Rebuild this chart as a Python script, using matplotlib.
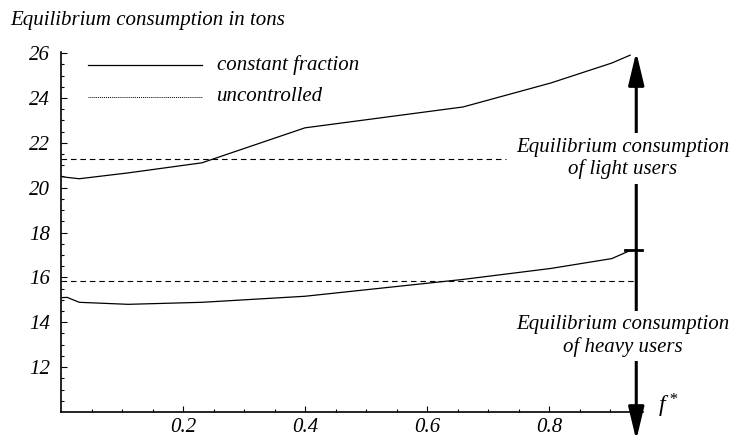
import matplotlib
matplotlib.use("Agg")
import matplotlib.pyplot as plt
from matplotlib.patches import FancyArrowPatch

# Data
f_star = [0.002, 0.01, 0.03, 0.11, 0.231, 0.40, 0.659, 0.803, 0.903, 0.933]
light_users = [20.49, 20.46, 20.40, 20.66, 21.11, 22.67, 23.60, 24.67, 25.56, 25.91]
heavy_users = [15.10, 15.11, 14.89, 14.80, 14.89, 15.16, 15.91, 16.40, 16.84, 17.20]

light_uncontrolled = 21.29
heavy_uncontrolled = 15.82
light_dash_end = 0.73
arrow_x = 0.943
arrow_mid = 17.24

x_ticks = [0.2, 0.4, 0.6, 0.8]
y_ticks = [12, 14, 16, 18, 20, 22, 24, 26]

plt.rcParams['font.family'] = ['Liberation Serif', 'DejaVu Serif']
plt.rcParams['font.style'] = 'italic'
plt.rcParams['mathtext.fontset'] = 'custom'
plt.rcParams['mathtext.it'] = 'Liberation Serif:italic'
plt.rcParams['mathtext.rm'] = 'Liberation Serif:italic'

fig = plt.figure(figsize=(7.36, 4.45), dpi=100)
ax = fig.add_axes([0.0829, 0.0742, 0.7907, 0.8089])

ax.plot(f_star, light_users, color='black', lw=0.9)
ax.plot(f_star, heavy_users, color='black', lw=0.9)
ax.plot([0, light_dash_end], [light_uncontrolled] * 2, color='black', lw=0.8, dashes=(5, 3.5))
ax.plot([0, arrow_x], [heavy_uncontrolled] * 2, color='black', lw=0.8, dashes=(5, 3.5))

ax.set_xlim(0, 0.954)
ax.set_ylim(10, 26.05)
ax.set_xticks(x_ticks)
ax.set_yticks(y_ticks)
ax.set_xticklabels([str(t) for t in x_ticks])
ax.set_xticks([i * 0.05 for i in range(1, 20)], minor=True)
ax.set_yticks([10 + i * 0.5 for i in range(1, 33)], minor=True)
ax.tick_params(which='both', direction='in', width=0.8, labelsize=15)
ax.tick_params(which='major', length=4)
ax.tick_params(which='minor', length=2.5)
ax.tick_params(axis='x', pad=4)
ax.tick_params(axis='y', pad=8)
ax.spines['top'].set_visible(False)
ax.spines['right'].set_visible(False)
ax.spines['left'].set_linewidth(1.2)
ax.spines['bottom'].set_linewidth(1.2)

# Arrows up (light users) and down (heavy users)
for y_end in (26.05, 8.75):
    arr = FancyArrowPatch((arrow_x, arrow_mid), (arrow_x, y_end),
                          arrowstyle='-|>,head_length=2.0,head_width=0.48',
                          mutation_scale=10, lw=2.2, color='black',
                          shrinkA=0, shrinkB=0, clip_on=False)
    ax.add_patch(arr)
ax.plot([0.925, 0.952], [arrow_mid, arrow_mid], color='black', lw=2.0, clip_on=False)

ax.text(0.921, 21.3, 'Equilibrium consumption\nof light users', ha='center', va='center',
        fontsize=15, linespacing=1.2, clip_on=False,
        bbox=dict(facecolor='white', edgecolor='none', pad=3))
ax.text(0.921, 13.4, 'Equilibrium consumption\nof heavy users', ha='center', va='center',
        fontsize=15, linespacing=1.2, clip_on=False,
        bbox=dict(facecolor='white', edgecolor='none', pad=3))

# Legend drawn by hand
ax.plot([0.044, 0.231], [25.47, 25.47], color='black', lw=0.9)
ax.plot([0.044, 0.231], [24.05, 24.05], color='black', lw=0.7, linestyle=(0, (1, 1)))
ax.text(0.256, 25.47, 'constant fraction', fontsize=15, va='center')
ax.text(0.256, 24.05, 'uncontrolled', fontsize=15, va='center')

fig.text(10 / 736, 1 - 20 / 445, 'Equilibrium consumption in tons', fontsize=15, va='center')
fig.text(658 / 736, 1 - 406 / 445, '$f^*$', fontsize=17, va='center')

fig.savefig('out.png', dpi=100)
